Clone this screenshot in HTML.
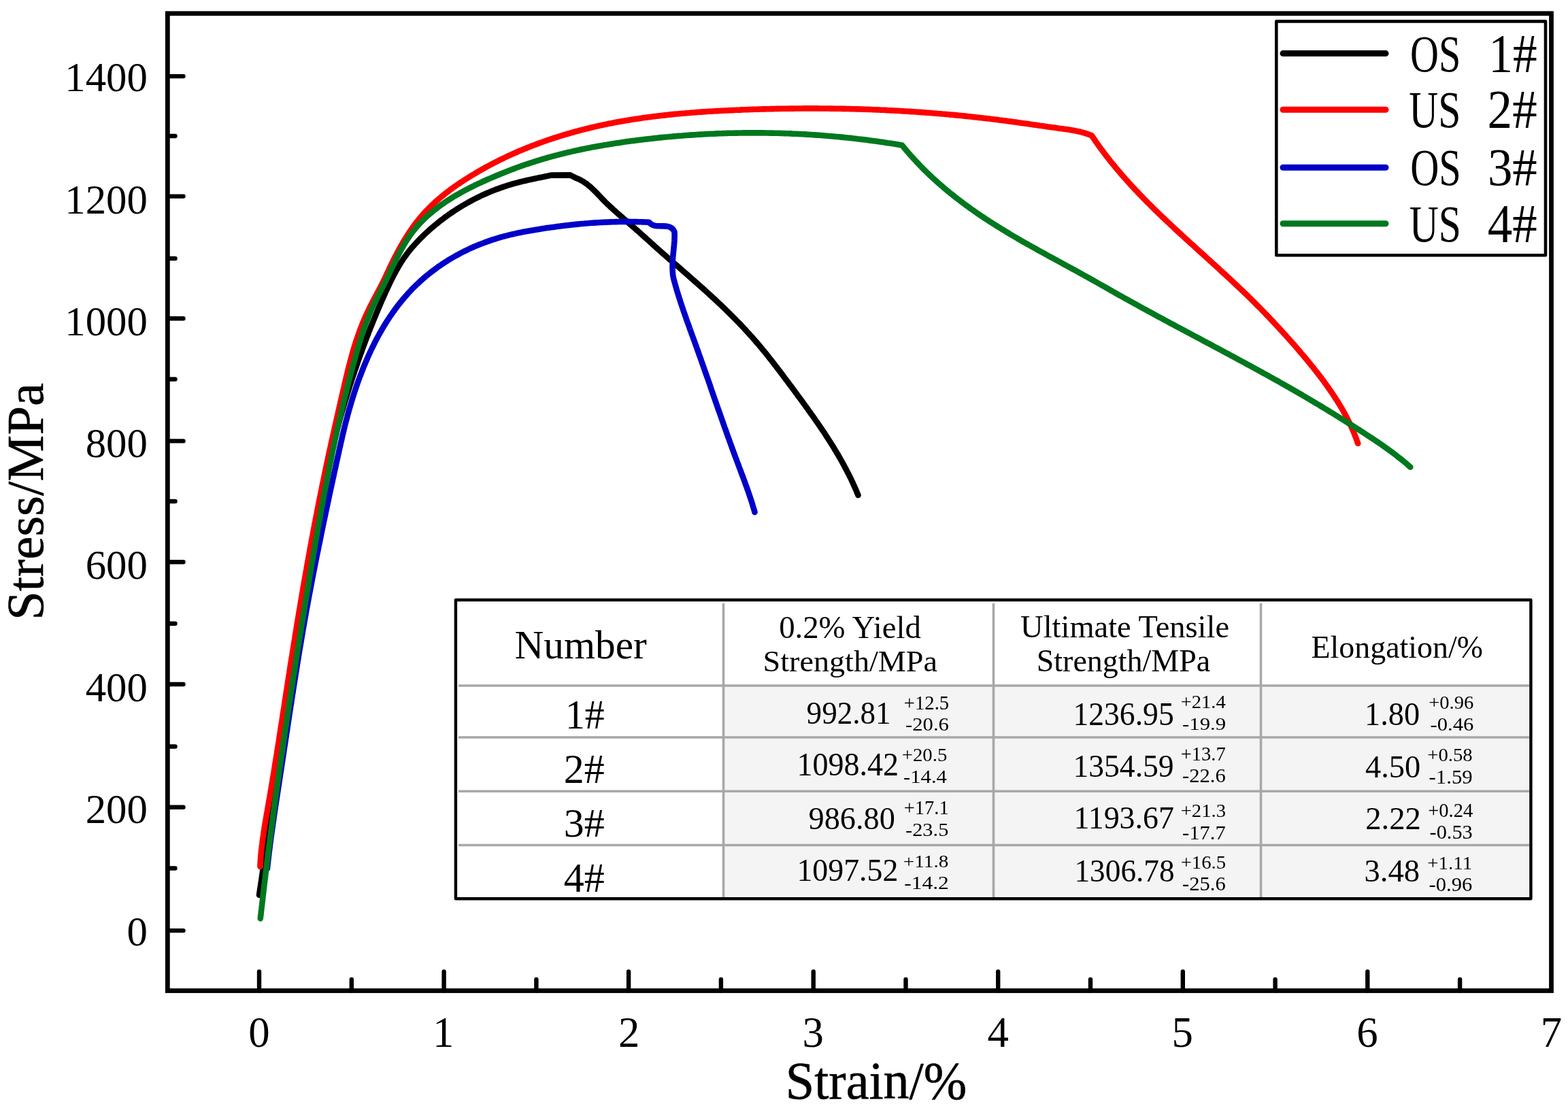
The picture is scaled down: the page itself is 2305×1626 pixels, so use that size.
<!DOCTYPE html><html><head><meta charset="utf-8"><title>Stress-strain curves</title><style>html,body{margin:0;padding:0;background:#fff;overflow:hidden}svg{display:block}text{font-family:"Liberation Serif","Times New Roman",serif;fill:#000;stroke:#000;stroke-linejoin:round}</style></head><body>
<svg xmlns="http://www.w3.org/2000/svg" width="2305" height="1626" viewBox="0 0 2305 1626">
<rect width="2305" height="1626" fill="#fff"/>
<path d="M246.3 1368.1H269.5 M246.3 1186.8H269.5 M246.3 1006H269.5 M246.3 826.3H269.5 M246.3 648.4H269.5 M246.3 468.3H269.5 M246.3 288.6H269.5 M246.3 112.1H269.5 M246.3 1276.5H257.5 M246.3 1097.5H257.5 M246.3 916.8H257.5 M246.3 737H257.5 M246.3 557.5H257.5 M246.3 380H257.5 M246.3 200H257.5 M381 1456.5V1428.5 M652.6 1456.5V1428.5 M924.1 1456.5V1428.5 M1195.7 1456.5V1428.5 M1467.2 1456.5V1428.5 M1738.8 1456.5V1428.5 M2010.3 1456.5V1428.5 M516.8 1456.5V1440 M788.4 1456.5V1440 M1059.9 1456.5V1440 M1331.5 1456.5V1440 M1603 1456.5V1440 M1874.6 1456.5V1440 M2146.1 1456.5V1440" stroke="#000" stroke-width="6.4" stroke-linecap="round" fill="none"/>
<polyline points="381,1316 381.4,1313 381.9,1310.1 382.3,1307.1 382.7,1304.1 383.2,1301.1 383.6,1298.2 384.1,1295.2 384.5,1292.2 384.9,1289.2 385.4,1286.3 385.8,1283.3 386.2,1280.3 386.7,1277.3 387.1,1274.4 387.5,1271.4 388,1268.4 388.4,1265.4 388.8,1262.5 389.2,1259.5 389.7,1256.5 390.1,1253.5 390.5,1250.6 391,1247.6 391.4,1244.6 391.8,1241.6 392.3,1238.7 392.7,1235.7 393.1,1232.7 393.5,1229.7 394,1226.8 394.4,1223.8 394.8,1220.8 395.3,1217.8 395.7,1214.8 396.1,1211.9 396.5,1208.9 397,1205.9 397.4,1202.9 397.8,1200 398.3,1197 398.7,1194 399.1,1191 399.5,1188 400,1185.1 400.4,1182.1 400.8,1179.1 401.3,1176.1 401.7,1173.2 402.1,1170.2 402.5,1167.2 403,1164.2 403.4,1161.3 403.8,1158.3 404.3,1155.3 404.7,1152.3 405.1,1149.3 405.6,1146.4 406,1143.4 406.4,1140.4 406.9,1137.4 407.3,1134.5 407.7,1131.5 408.2,1128.5 408.6,1125.5 409,1122.6 409.5,1119.6 409.9,1116.6 410.3,1113.6 410.8,1110.6 411.2,1107.7 411.6,1104.7 412.1,1101.7 412.5,1098.7 413,1095.8 413.4,1092.8 413.9,1089.8 414.3,1086.8 414.7,1083.9 415.2,1080.9 415.6,1077.9 416.1,1074.9 416.5,1072 417,1069 417.4,1066 417.9,1063 418.3,1060.1 418.8,1057.1 419.2,1054.1 419.7,1051.2 420.1,1048.2 420.6,1045.2 421,1042.2 421.5,1039.3 421.9,1036.3 422.4,1033.3 422.9,1030.3 423.3,1027.4 423.8,1024.4 424.2,1021.4 424.7,1018.5 425.2,1015.5 425.6,1012.5 426.1,1009.6 426.6,1006.6 427,1003.6 427.5,1000.6 428,997.7 428.5,994.7 428.9,991.7 429.4,988.8 429.9,985.8 430.4,982.8 430.8,979.9 431.3,976.9 431.8,973.9 432.3,971 432.8,968 433.3,965 433.7,962.1 434.2,959.1 434.7,956.1 435.2,953.2 435.7,950.2 436.2,947.2 436.7,944.3 437.2,941.3 437.7,938.4 438.1,935.4 438.6,932.4 439.1,929.5 439.6,926.5 440.1,923.5 440.6,920.6 441.1,917.6 441.6,914.6 442.1,911.7 442.6,908.7 443.1,905.7 443.6,902.8 444.1,899.8 444.6,896.9 445.1,893.9 445.6,890.9 446.1,888 446.6,885 447.1,882 447.6,879.1 448.1,876.1 448.6,873.1 449.2,870.2 449.7,867.2 450.2,864.3 450.7,861.3 451.2,858.3 451.7,855.4 452.2,852.4 452.7,849.4 453.2,846.5 453.7,843.5 454.2,840.5 454.7,837.6 455.2,834.6 455.7,831.6 456.2,828.7 456.8,825.7 457.3,822.7 457.8,819.8 458.3,816.8 458.8,813.8 459.3,810.9 459.8,807.9 460.3,804.9 460.8,802 461.3,799 461.9,796 462.4,793.1 462.9,790.1 463.4,787.2 463.9,784.2 464.4,781.2 465,778.3 465.5,775.3 466,772.3 466.5,769.4 467.1,766.4 467.6,763.4 468.1,760.5 468.7,757.5 469.2,754.6 469.8,751.6 470.3,748.6 470.9,745.7 471.4,742.7 472,739.8 472.5,736.8 473.1,733.9 473.6,730.9 474.2,727.9 474.8,725 475.4,722 475.9,719.1 476.5,716.1 477.1,713.2 477.7,710.2 478.3,707.3 478.9,704.3 479.5,701.4 480.1,698.5 480.7,695.5 481.4,692.6 482,689.6 482.6,686.7 483.3,683.8 483.9,680.8 484.5,677.9 485.2,674.9 485.9,672 486.5,669.1 487.2,666.2 487.9,663.2 488.6,660.3 489.2,657.4 489.9,654.5 490.6,651.5 491.3,648.6 492.1,645.7 492.8,642.8 493.5,639.9 494.3,637 495,634 495.7,631.1 496.5,628.2 497.3,625.3 498,622.4 498.8,619.5 499.6,616.6 500.4,613.7 501.2,610.8 502,607.9 502.8,605.1 503.7,602.2 504.5,599.3 505.3,596.4 506.2,593.5 507,590.6 507.9,587.8 508.8,584.9 509.7,582 510.5,579.1 511.4,576.3 512.3,573.4 513.2,570.5 514.1,567.7 515,564.8 516,562 516.9,559.1 517.8,556.2 518.8,553.4 519.7,550.5 520.7,547.7 521.6,544.8 522.6,542 523.6,539.2 524.6,536.3 525.5,533.5 526.5,530.6 527.5,527.8 528.5,525 529.5,522.1 530.6,519.3 531.6,516.5 532.6,513.7 533.6,510.8 534.7,508 535.7,505.2 536.8,502.4 537.8,499.6 538.9,496.8 540,494 541.1,491.2 542.1,488.4 543.2,485.6 544.3,482.8 545.4,480 546.6,477.2 547.7,474.4 548.8,471.6 550,468.8 551.1,466 552.3,463.2 553.4,460.5 554.6,457.7 555.8,454.9 556.9,452.1 558.1,449.4 559.3,446.6 560.5,443.8 561.7,441.1 563,438.3 564.2,435.6 565.4,432.8 566.6,430 567.9,427.3 569.1,424.5 570.4,421.8 571.7,419.1 573,416.3 574.3,413.6 575.6,410.9 577,408.2 578.3,405.6 579.7,402.9 581.2,400.3 582.6,397.6 584.1,395 585.6,392.4 587.1,389.9 588.6,387.3 590.2,384.8 591.9,382.3 593.5,379.8 595.2,377.4 597,375 598.7,372.6 600.6,370.2 602.4,367.9 604.3,365.6 606.2,363.3 608.2,361.1 610.2,358.9 612.2,356.7 614.3,354.5 616.3,352.4 618.4,350.2 620.6,348.1 622.7,346 624.9,343.9 627.1,341.9 629.3,339.8 631.6,337.8 633.8,335.8 636.1,333.9 638.4,331.9 640.8,330 643.1,328.1 645.5,326.2 647.8,324.3 650.3,322.5 652.7,320.6 655.1,318.8 657.6,317.1 660,315.3 662.5,313.6 665,311.9 667.5,310.2 670.1,308.5 672.6,306.9 675.2,305.3 677.8,303.7 680.4,302.1 683,300.6 685.6,299.1 688.2,297.6 690.9,296.2 693.5,294.7 696.2,293.3 698.8,292 701.5,290.6 704.2,289.3 706.9,288 709.6,286.7 712.4,285.5 715.1,284.3 717.9,283.1 720.6,282 723.4,280.8 726.2,279.7 729,278.6 731.8,277.6 734.6,276.6 737.4,275.6 740.2,274.6 743.1,273.7 745.9,272.7 748.8,271.9 751.6,271 754.5,270.2 757.4,269.4 760.3,268.6 763.2,267.8 766.1,267.1 769.1,266.4 772,265.7 774.9,265 777.9,264.4 780.8,263.8 783.8,263.1 786.7,262.5 789.6,261.9 792.6,261.3 795.5,260.7 798.4,260.1 801.3,259.5 804.2,258.9 807.1,258.2 810,257.6 838.1,257.4 845.6,261.2 848.6,262.4 851.4,263.7 854.2,265.1 856.8,266.6 859.3,268.2 861.8,269.9 864.1,271.7 866.4,273.6 868.7,275.6 870.9,277.6 873,279.6 875.1,281.7 877.2,283.8 879.3,286 881.3,288.1 883.4,290.3 885.4,292.5 887.5,294.6 889.6,296.7 891.7,298.8 893.9,300.9 896.1,303 898.3,305 900.5,307 902.7,309.1 905,311.1 907.2,313.1 909.5,315.1 911.8,317 914.1,319 916.3,321 918.6,323 920.9,324.9 923.2,326.9 925.5,328.9 927.8,330.9 930.1,332.9 932.3,334.9 934.6,336.9 936.9,338.9 939.1,340.9 941.4,342.9 943.6,345 945.9,347 948.1,349 950.4,351 952.6,353.1 954.9,355.1 957.1,357.1 959.4,359.1 961.6,361.2 963.9,363.2 966.1,365.2 968.4,367.2 970.7,369.2 972.9,371.2 975.2,373.2 977.5,375.2 979.7,377.2 982,379.2 984.3,381.2 986.6,383.1 988.9,385.1 991.1,387.1 993.4,389.1 995.7,391.1 998,393.1 1000.3,395.1 1002.5,397 1004.8,399 1007.1,401 1009.4,403 1011.7,405 1013.9,407 1016.2,409 1018.5,411 1020.7,413 1023,415 1025.3,417 1027.5,419 1029.8,421 1032.1,423 1034.3,425 1036.6,427.1 1038.8,429.1 1041,431.1 1043.3,433.2 1045.5,435.2 1047.7,437.3 1050,439.3 1052.2,441.4 1054.4,443.5 1056.6,445.6 1058.8,447.6 1061,449.7 1063.2,451.8 1065.4,453.9 1067.5,456 1069.7,458.2 1071.9,460.3 1074,462.4 1076.2,464.5 1078.3,466.7 1080.4,468.8 1082.5,471 1084.7,473.2 1086.8,475.3 1088.9,477.5 1090.9,479.7 1093,481.9 1095.1,484.1 1097.1,486.4 1099.2,488.6 1101.2,490.8 1103.2,493.1 1105.3,495.3 1107.3,497.6 1109.2,499.8 1111.2,502.1 1113.2,504.4 1115.2,506.7 1117.1,509 1119,511.3 1121,513.7 1122.9,516 1124.8,518.3 1126.7,520.7 1128.6,523 1130.4,525.4 1132.3,527.8 1134.2,530.1 1136,532.5 1137.9,534.9 1139.7,537.3 1141.6,539.7 1143.4,542.1 1145.3,544.5 1147.1,546.9 1148.9,549.3 1150.7,551.7 1152.5,554.2 1154.3,556.6 1156.2,559 1158,561.4 1159.8,563.9 1161.6,566.3 1163.4,568.7 1165.2,571.1 1167,573.6 1168.8,576 1170.6,578.4 1172.4,580.9 1174.2,583.3 1176,585.8 1177.8,588.2 1179.5,590.6 1181.3,593.1 1183.1,595.5 1184.9,598 1186.7,600.4 1188.4,602.9 1190.2,605.4 1192,607.8 1193.7,610.3 1195.5,612.8 1197.2,615.2 1198.9,617.7 1200.7,620.2 1202.4,622.7 1204.1,625.2 1205.8,627.7 1207.5,630.2 1209.2,632.7 1210.9,635.2 1212.6,637.7 1214.2,640.2 1215.9,642.8 1217.5,645.3 1219.1,647.9 1220.8,650.4 1222.4,653 1224,655.5 1225.6,658.1 1227.1,660.7 1228.7,663.3 1230.2,665.8 1231.8,668.4 1233.3,671.1 1234.8,673.7 1236.3,676.3 1237.8,678.9 1239.2,681.6 1240.7,684.2 1242.1,686.9 1243.5,689.6 1244.9,692.2 1246.3,694.9 1247.7,697.6 1249,700.3 1250.4,703 1251.7,705.8 1253,708.5 1254.2,711.3 1255.5,714 1256.7,716.8 1258,719.6 1259.2,722.4 1260.3,725.2 1261.5,728" fill="none" stroke="#000" stroke-width="8.6" stroke-linejoin="round" stroke-linecap="round"/>
<polyline points="382.4,1274 382.5,1271 382.7,1268 382.9,1265 383.1,1262 383.4,1259 383.6,1256 383.9,1253 384.2,1250 384.6,1247 384.9,1244 385.3,1241 385.6,1238 386,1235.1 386.4,1232.1 386.9,1229.1 387.3,1226.1 387.7,1223.1 388.2,1220.2 388.7,1217.2 389.1,1214.2 389.6,1211.3 390.1,1208.3 390.6,1205.3 391.1,1202.4 391.6,1199.4 392.1,1196.4 392.7,1193.5 393.2,1190.5 393.7,1187.5 394.2,1184.6 394.7,1181.6 395.2,1178.6 395.8,1175.7 396.3,1172.7 396.8,1169.8 397.3,1166.8 397.8,1163.8 398.3,1160.9 398.8,1157.9 399.3,1154.9 399.8,1152 400.3,1149 400.7,1146 401.2,1143.1 401.7,1140.1 402.2,1137.1 402.7,1134.2 403.2,1131.2 403.6,1128.2 404.1,1125.3 404.6,1122.3 405.1,1119.3 405.6,1116.3 406,1113.4 406.5,1110.4 407,1107.4 407.4,1104.5 407.9,1101.5 408.4,1098.5 408.8,1095.6 409.3,1092.6 409.8,1089.6 410.2,1086.7 410.7,1083.7 411.1,1080.7 411.6,1077.7 412.1,1074.8 412.5,1071.8 413,1068.8 413.4,1065.9 413.9,1062.9 414.4,1059.9 414.8,1057 415.3,1054 415.7,1051 416.2,1048 416.6,1045.1 417.1,1042.1 417.6,1039.1 418,1036.2 418.5,1033.2 418.9,1030.2 419.4,1027.2 419.8,1024.3 420.3,1021.3 420.7,1018.3 421.2,1015.4 421.7,1012.4 422.1,1009.4 422.6,1006.4 423,1003.5 423.5,1000.5 424,997.5 424.4,994.6 424.9,991.6 425.4,988.6 425.8,985.6 426.3,982.7 426.7,979.7 427.2,976.7 427.7,973.8 428.2,970.8 428.6,967.8 429.1,964.9 429.6,961.9 430,958.9 430.5,955.9 431,953 431.5,950 431.9,947 432.4,944.1 432.9,941.1 433.4,938.1 433.8,935.2 434.3,932.2 434.8,929.2 435.3,926.3 435.8,923.3 436.3,920.3 436.7,917.3 437.2,914.4 437.7,911.4 438.2,908.4 438.7,905.5 439.2,902.5 439.7,899.5 440.2,896.6 440.7,893.6 441.2,890.6 441.7,887.7 442.2,884.7 442.7,881.7 443.2,878.8 443.7,875.8 444.2,872.8 444.7,869.9 445.2,866.9 445.7,864 446.2,861 446.7,858 447.2,855.1 447.8,852.1 448.3,849.1 448.8,846.2 449.3,843.2 449.8,840.3 450.4,837.3 450.9,834.3 451.4,831.4 451.9,828.4 452.5,825.4 453,822.5 453.5,819.5 454.1,816.6 454.6,813.6 455.1,810.6 455.7,807.7 456.2,804.7 456.7,801.8 457.3,798.8 457.8,795.9 458.4,792.9 458.9,789.9 459.5,787 460,784 460.6,781.1 461.1,778.1 461.7,775.2 462.3,772.2 462.8,769.3 463.4,766.3 463.9,763.4 464.5,760.4 465.1,757.5 465.7,754.5 466.2,751.6 466.8,748.6 467.4,745.7 468,742.7 468.5,739.8 469.1,736.8 469.7,733.9 470.3,730.9 470.9,728 471.5,725 472.1,722.1 472.7,719.1 473.3,716.2 473.8,713.2 474.5,710.3 475.1,707.4 475.7,704.4 476.3,701.5 476.9,698.5 477.5,695.6 478.1,692.7 478.7,689.7 479.3,686.8 480,683.8 480.6,680.9 481.2,678 481.8,675 482.5,672.1 483.1,669.1 483.7,666.2 484.4,663.3 485,660.3 485.7,657.4 486.3,654.5 486.9,651.5 487.6,648.6 488.2,645.7 488.9,642.7 489.5,639.8 490.2,636.9 490.9,634 491.5,631 492.2,628.1 492.8,625.2 493.5,622.2 494.2,619.3 494.8,616.4 495.5,613.4 496.2,610.5 496.8,607.6 497.5,604.6 498.2,601.7 498.8,598.7 499.5,595.8 500.2,592.9 500.8,589.9 501.5,587 502.2,584.1 502.9,581.1 503.5,578.2 504.2,575.2 504.9,572.3 505.6,569.4 506.2,566.4 506.9,563.5 507.6,560.5 508.3,557.6 509,554.6 509.7,551.7 510.4,548.8 511.1,545.8 511.8,542.9 512.6,540 513.3,537 514.1,534.1 514.8,531.2 515.6,528.3 516.4,525.4 517.2,522.5 518,519.6 518.8,516.7 519.7,513.8 520.5,510.9 521.4,508 522.3,505.2 523.2,502.3 524.2,499.5 525.1,496.6 526.1,493.8 527.1,491 528.1,488.1 529.1,485.3 530.2,482.5 531.3,479.7 532.4,476.9 533.5,474.2 534.7,471.4 535.8,468.7 537,465.9 538.3,463.2 539.5,460.5 540.8,457.8 542.1,455.1 543.4,452.4 544.7,449.7 546.1,447 547.4,444.4 548.8,441.7 550.2,439.1 551.6,436.4 553,433.8 554.4,431.1 555.8,428.5 557.2,425.9 558.6,423.2 560,420.6 561.3,417.9 562.7,415.2 564,412.5 565.3,409.8 566.6,407.2 567.8,404.4 569.1,401.7 570.4,399 571.7,396.3 572.9,393.6 574.2,390.9 575.5,388.2 576.8,385.5 578.2,382.8 579.5,380.1 580.9,377.4 582.3,374.7 583.7,372.1 585.1,369.4 586.5,366.7 588,364.1 589.5,361.5 591,358.8 592.5,356.2 594,353.6 595.6,351.1 597.2,348.5 598.8,346 600.4,343.4 602.1,340.9 603.8,338.4 605.5,336 607.2,333.5 609,331.1 610.8,328.7 612.6,326.3 614.5,324 616.3,321.6 618.3,319.3 620.2,317.1 622.2,314.8 624.2,312.6 626.2,310.4 628.3,308.3 630.4,306.1 632.5,304 634.6,301.9 636.8,299.9 639,297.8 641.2,295.8 643.5,293.9 645.7,291.9 648,290 650.3,288.1 652.7,286.2 655,284.3 657.4,282.5 659.8,280.6 662.2,278.8 664.6,277 667.1,275.3 669.5,273.5 672,271.8 674.5,270.1 677,268.4 679.5,266.8 682,265.1 684.5,263.5 687.1,261.9 689.6,260.3 692.2,258.7 694.8,257.1 697.4,255.6 700,254 702.6,252.5 705.2,251 707.8,249.5 710.4,248 713,246.6 715.7,245.1 718.3,243.7 721,242.3 723.6,240.9 726.3,239.5 729,238.1 731.7,236.8 734.4,235.4 737.1,234.1 739.8,232.8 742.5,231.5 745.2,230.2 747.9,228.9 750.7,227.7 753.4,226.4 756.2,225.2 758.9,224 761.7,222.8 764.4,221.6 767.2,220.5 770,219.3 772.8,218.2 775.5,217 778.3,215.9 781.1,214.8 783.9,213.7 786.8,212.7 789.6,211.6 792.4,210.6 795.2,209.5 798.1,208.5 800.9,207.5 803.7,206.5 806.6,205.5 809.4,204.6 812.3,203.6 815.1,202.7 818,201.8 820.9,200.9 823.7,200 826.6,199.1 829.5,198.2 832.4,197.3 835.3,196.5 838.2,195.7 841.1,194.8 844,194 846.9,193.2 849.8,192.5 852.7,191.7 855.6,190.9 858.5,190.2 861.4,189.4 864.3,188.7 867.3,188 870.2,187.3 873.1,186.6 876,185.9 879,185.3 881.9,184.6 884.8,184 887.8,183.4 890.7,182.8 893.7,182.1 896.6,181.6 899.6,181 902.5,180.4 905.5,179.8 908.4,179.3 911.4,178.8 914.3,178.2 917.3,177.7 920.2,177.2 923.2,176.7 926.2,176.2 929.1,175.7 932.1,175.3 935.1,174.8 938,174.4 941,173.9 944,173.5 947,173.1 949.9,172.7 952.9,172.3 955.9,171.9 958.9,171.5 961.8,171.1 964.8,170.8 967.8,170.4 970.8,170.1 973.8,169.7 976.8,169.4 979.7,169.1 982.7,168.7 985.7,168.4 988.7,168.1 991.7,167.8 994.7,167.5 997.7,167.3 1000.7,167 1003.7,166.7 1006.7,166.5 1009.7,166.2 1012.7,166 1015.7,165.7 1018.7,165.5 1021.7,165.3 1024.7,165 1027.7,164.8 1030.7,164.6 1033.7,164.4 1036.7,164.2 1039.7,164 1042.7,163.8 1045.7,163.7 1048.7,163.5 1051.7,163.3 1054.7,163.1 1057.7,163 1060.7,162.8 1063.7,162.7 1066.7,162.5 1069.7,162.4 1072.7,162.2 1075.7,162.1 1078.8,162 1081.8,161.8 1084.8,161.7 1087.8,161.6 1090.8,161.4 1093.8,161.3 1096.8,161.2 1099.8,161.1 1102.8,161 1105.8,160.9 1108.8,160.8 1111.9,160.7 1114.9,160.6 1117.9,160.5 1120.9,160.4 1123.9,160.4 1126.9,160.3 1129.9,160.2 1132.9,160.1 1135.9,160.1 1138.9,160 1141.9,159.9 1144.9,159.9 1148,159.8 1151,159.8 1154,159.7 1157,159.7 1160,159.6 1163,159.6 1166,159.6 1169,159.5 1172,159.5 1175,159.5 1178,159.5 1181.1,159.4 1184.1,159.4 1187.1,159.4 1190.1,159.4 1193.1,159.4 1196.1,159.4 1199.1,159.4 1202.1,159.4 1205.1,159.5 1208.1,159.5 1211.1,159.5 1214.1,159.5 1217.2,159.5 1220.2,159.6 1223.2,159.6 1226.2,159.7 1229.2,159.7 1232.2,159.7 1235.2,159.8 1238.2,159.9 1241.2,159.9 1244.2,160 1247.2,160 1250.2,160.1 1253.2,160.2 1256.2,160.3 1259.3,160.4 1262.3,160.4 1265.3,160.5 1268.3,160.6 1271.3,160.7 1274.3,160.8 1277.3,160.9 1280.3,161 1283.3,161.2 1286.3,161.3 1289.3,161.4 1292.3,161.5 1295.3,161.7 1298.3,161.8 1301.3,161.9 1304.3,162.1 1307.3,162.2 1310.3,162.4 1313.3,162.5 1316.3,162.7 1319.3,162.8 1322.3,163 1325.3,163.2 1328.3,163.4 1331.3,163.5 1334.3,163.7 1337.3,163.9 1340.3,164.1 1343.3,164.3 1346.3,164.5 1349.3,164.7 1352.3,164.9 1355.3,165.1 1358.3,165.3 1361.3,165.6 1364.3,165.8 1367.3,166 1370.3,166.3 1373.3,166.5 1376.3,166.7 1379.3,167 1382.3,167.2 1385.3,167.5 1388.3,167.7 1391.3,168 1394.3,168.3 1397.3,168.6 1400.3,168.8 1403.3,169.1 1406.3,169.4 1409.3,169.7 1412.3,170 1415.3,170.3 1418.2,170.6 1421.2,170.9 1424.2,171.2 1427.2,171.5 1430.2,171.9 1433.2,172.2 1436.2,172.5 1439.2,172.9 1442.2,173.2 1445.2,173.5 1448.1,173.9 1451.1,174.2 1454.1,174.6 1457.1,175 1460.1,175.3 1463.1,175.7 1466.1,176.1 1469,176.5 1472,176.8 1475,177.2 1478,177.6 1481,178 1484,178.4 1486.9,178.8 1489.9,179.2 1492.9,179.6 1495.9,180.1 1498.9,180.5 1501.9,180.9 1504.8,181.3 1507.8,181.7 1510.8,182.1 1513.8,182.6 1516.8,183 1519.7,183.4 1522.7,183.8 1525.7,184.2 1528.7,184.7 1531.7,185.1 1534.6,185.5 1537.6,185.9 1540.6,186.4 1543.6,186.8 1546.6,187.2 1549.5,187.6 1552.5,188 1555.5,188.5 1558.5,188.9 1561.5,189.3 1564.4,189.7 1567.4,190.1 1570.4,190.5 1573.4,191 1576.3,191.5 1579.3,192 1582.2,192.6 1585.1,193.2 1588,193.8 1590.9,194.6 1593.8,195.4 1596.6,196.3 1599.4,197.2 1602.2,198.3 1605,199.5 1606.7,202 1608.4,204.5 1610.1,207 1611.8,209.5 1613.6,212 1615.3,214.4 1617.1,216.9 1618.9,219.3 1620.7,221.8 1622.5,224.2 1624.3,226.6 1626.1,229 1628,231.4 1629.8,233.7 1631.7,236.1 1633.6,238.4 1635.5,240.8 1637.4,243.1 1639.3,245.4 1641.2,247.7 1643.1,250 1645.1,252.3 1647,254.6 1649,256.9 1651,259.2 1653,261.4 1655,263.7 1657,265.9 1659,268.1 1661,270.3 1663,272.6 1665,274.8 1667.1,277 1669.1,279.2 1671.2,281.3 1673.3,283.5 1675.3,285.7 1677.4,287.9 1679.5,290 1681.6,292.2 1683.7,294.3 1685.8,296.5 1687.9,298.6 1690.1,300.7 1692.2,302.8 1694.3,305 1696.5,307.1 1698.6,309.2 1700.8,311.3 1702.9,313.4 1705.1,315.5 1707.3,317.5 1709.4,319.6 1711.6,321.7 1713.8,323.8 1716,325.9 1718.2,327.9 1720.4,330 1722.6,332 1724.8,334.1 1727,336.2 1729.2,338.2 1731.4,340.2 1733.6,342.3 1735.8,344.3 1738.1,346.4 1740.3,348.4 1742.5,350.5 1744.7,352.5 1747,354.5 1749.2,356.6 1751.4,358.6 1753.7,360.6 1755.9,362.6 1758.1,364.7 1760.4,366.7 1762.6,368.7 1764.8,370.8 1767.1,372.8 1769.3,374.8 1771.6,376.8 1773.8,378.9 1776,380.9 1778.3,382.9 1780.5,384.9 1782.7,387 1785,389 1787.2,391 1789.4,393.1 1791.7,395.1 1793.9,397.2 1796.1,399.2 1798.3,401.2 1800.6,403.3 1802.8,405.3 1805,407.4 1807.2,409.4 1809.4,411.5 1811.6,413.5 1813.8,415.6 1816,417.7 1818.2,419.7 1820.4,421.8 1822.6,423.9 1824.8,426 1827,428 1829.1,430.1 1831.3,432.2 1833.5,434.3 1835.6,436.4 1837.8,438.5 1839.9,440.7 1842.1,442.8 1844.2,444.9 1846.3,447 1848.4,449.2 1850.6,451.3 1852.7,453.4 1854.8,455.6 1856.9,457.8 1859,459.9 1861.1,462.1 1863.2,464.2 1865.3,466.4 1867.3,468.6 1869.4,470.8 1871.5,473 1873.5,475.2 1875.6,477.4 1877.6,479.6 1879.7,481.8 1881.7,484 1883.8,486.2 1885.8,488.5 1887.8,490.7 1889.9,492.9 1891.9,495.2 1893.9,497.4 1895.9,499.7 1897.9,501.9 1899.9,504.2 1901.9,506.4 1903.9,508.7 1905.9,511 1907.8,513.3 1909.8,515.6 1911.8,517.9 1913.7,520.2 1915.7,522.5 1917.6,524.8 1919.5,527.1 1921.5,529.4 1923.4,531.7 1925.3,534.1 1927.2,536.4 1929.1,538.8 1931,541.1 1932.8,543.5 1934.7,545.9 1936.6,548.2 1938.4,550.6 1940.2,553 1942.1,555.4 1943.9,557.8 1945.7,560.2 1947.4,562.7 1949.2,565.1 1951,567.5 1952.7,570 1954.4,572.5 1956.2,574.9 1957.8,577.4 1959.5,579.9 1961.2,582.4 1962.8,584.9 1964.4,587.4 1966.1,590 1967.6,592.5 1969.2,595.1 1970.7,597.6 1972.3,600.2 1973.8,602.8 1975.2,605.4 1976.7,608 1978.1,610.7 1979.5,613.3 1980.9,616 1982.2,618.7 1983.6,621.4 1984.9,624.1 1986.1,626.8 1987.4,629.5 1988.6,632.3 1989.8,635 1990.9,637.8 1992,640.6 1993.1,643.4 1994.2,646.3 1995.2,649.1 1996.2,652" fill="none" stroke="#ff0000" stroke-width="8.6" stroke-linejoin="round" stroke-linecap="round"/>
<polyline points="392.9,1277 393.2,1274 393.5,1271 393.9,1268 394.2,1265 394.6,1262 394.9,1259.1 395.3,1256.1 395.6,1253.1 396,1250.1 396.4,1247.1 396.8,1244.1 397.1,1241.1 397.5,1238.2 397.9,1235.2 398.3,1232.2 398.7,1229.2 399.1,1226.2 399.5,1223.3 399.9,1220.3 400.4,1217.3 400.8,1214.3 401.2,1211.3 401.6,1208.4 402.1,1205.4 402.5,1202.4 402.9,1199.4 403.4,1196.4 403.8,1193.5 404.2,1190.5 404.7,1187.5 405.1,1184.5 405.6,1181.6 406,1178.6 406.5,1175.6 406.9,1172.6 407.4,1169.7 407.8,1166.7 408.3,1163.7 408.7,1160.7 409.2,1157.8 409.7,1154.8 410.1,1151.8 410.6,1148.8 411,1145.9 411.5,1142.9 411.9,1139.9 412.4,1136.9 412.8,1134 413.3,1131 413.7,1128 414.2,1125 414.6,1122.1 415.1,1119.1 415.5,1116.1 416,1113.1 416.4,1110.2 416.9,1107.2 417.3,1104.2 417.8,1101.2 418.2,1098.3 418.7,1095.3 419.1,1092.3 419.6,1089.3 420,1086.4 420.5,1083.4 420.9,1080.4 421.4,1077.4 421.8,1074.5 422.3,1071.5 422.7,1068.5 423.2,1065.5 423.6,1062.6 424.1,1059.6 424.5,1056.6 425,1053.6 425.4,1050.7 425.9,1047.7 426.3,1044.7 426.8,1041.8 427.2,1038.8 427.7,1035.8 428.2,1032.8 428.6,1029.9 429.1,1026.9 429.5,1023.9 430,1020.9 430.5,1018 430.9,1015 431.4,1012 431.8,1009.1 432.3,1006.1 432.8,1003.1 433.2,1000.1 433.7,997.2 434.2,994.2 434.6,991.2 435.1,988.3 435.6,985.3 436.1,982.3 436.5,979.4 437,976.4 437.5,973.4 438,970.4 438.5,967.5 438.9,964.5 439.4,961.5 439.9,958.6 440.4,955.6 440.9,952.6 441.4,949.7 441.9,946.7 442.4,943.7 442.9,940.8 443.4,937.8 443.9,934.8 444.4,931.9 444.9,928.9 445.4,925.9 445.9,923 446.4,920 447,917.1 447.5,914.1 448,911.1 448.5,908.2 449.1,905.2 449.6,902.2 450.1,899.3 450.6,896.3 451.2,893.4 451.7,890.4 452.3,887.4 452.8,884.5 453.4,881.5 453.9,878.6 454.4,875.6 455,872.6 455.6,869.7 456.1,866.7 456.7,863.8 457.2,860.8 457.8,857.8 458.4,854.9 458.9,851.9 459.5,849 460.1,846 460.6,843.1 461.2,840.1 461.8,837.2 462.4,834.2 463,831.2 463.5,828.3 464.1,825.3 464.7,822.4 465.3,819.4 465.9,816.5 466.5,813.5 467.1,810.6 467.7,807.6 468.3,804.7 468.9,801.7 469.5,798.8 470.1,795.8 470.7,792.9 471.3,789.9 471.9,787 472.5,784 473.1,781.1 473.7,778.1 474.3,775.2 474.9,772.2 475.5,769.3 476.1,766.3 476.8,763.4 477.4,760.5 478,757.5 478.6,754.6 479.2,751.6 479.9,748.7 480.5,745.7 481.1,742.8 481.7,739.8 482.4,736.9 483,734 483.6,731 484.2,728.1 484.9,725.1 485.5,722.2 486.1,719.3 486.8,716.3 487.4,713.4 488,710.4 488.7,707.5 489.3,704.6 490,701.6 490.6,698.7 491.2,695.7 491.9,692.8 492.5,689.9 493.2,686.9 493.8,684 494.4,681.1 495.1,678.1 495.7,675.2 496.4,672.3 497,669.3 497.7,666.4 498.3,663.5 499,660.5 499.6,657.6 500.3,654.7 500.9,651.7 501.6,648.8 502.3,645.9 502.9,642.9 503.6,640 504.3,637.1 505,634.2 505.7,631.3 506.4,628.3 507.1,625.4 507.9,622.5 508.6,619.6 509.4,616.7 510.2,613.8 510.9,610.8 511.7,607.9 512.5,605 513.3,602.1 514.2,599.2 515,596.3 515.9,593.4 516.7,590.6 517.6,587.7 518.5,584.8 519.4,581.9 520.3,579 521.2,576.2 522.2,573.3 523.2,570.4 524.1,567.6 525.1,564.7 526.1,561.9 527.1,559 528.2,556.2 529.2,553.4 530.3,550.6 531.4,547.7 532.5,544.9 533.6,542.1 534.7,539.3 535.9,536.5 537,533.8 538.2,531 539.4,528.2 540.6,525.4 541.8,522.7 543.1,519.9 544.3,517.2 545.6,514.5 546.9,511.8 548.3,509.1 549.6,506.4 550.9,503.7 552.3,501 553.7,498.3 555.1,495.7 556.6,493 558,490.4 559.5,487.8 561,485.2 562.5,482.6 564.1,480 565.6,477.4 567.2,474.9 568.8,472.3 570.4,469.8 572.1,467.3 573.7,464.8 575.4,462.4 577.1,459.9 578.9,457.5 580.6,455 582.4,452.6 584.2,450.2 586,447.9 587.9,445.5 589.7,443.2 591.6,440.9 593.6,438.6 595.5,436.3 597.5,434.1 599.5,431.8 601.5,429.6 603.6,427.4 605.6,425.3 607.7,423.1 609.9,421 612,418.9 614.2,416.9 616.4,414.8 618.6,412.8 620.9,410.8 623.1,408.8 625.4,406.8 627.7,404.9 630.1,403 632.4,401.1 634.8,399.3 637.2,397.5 639.6,395.7 642,393.9 644.5,392.1 646.9,390.4 649.4,388.7 651.9,387.1 654.4,385.4 657,383.8 659.5,382.2 662.1,380.6 664.7,379.1 667.3,377.6 669.9,376.1 672.5,374.7 675.2,373.2 677.9,371.8 680.5,370.5 683.2,369.1 685.9,367.8 688.6,366.5 691.4,365.2 694.1,364 696.8,362.8 699.6,361.6 702.4,360.5 705.2,359.3 708,358.2 710.8,357.2 713.6,356.1 716.4,355.1 719.2,354.1 722.1,353.1 724.9,352.2 727.8,351.3 730.7,350.4 733.5,349.5 736.4,348.7 739.3,347.9 742.2,347.1 745.1,346.4 748,345.6 751,344.9 753.9,344.2 756.8,343.6 759.7,342.9 762.7,342.3 765.6,341.7 768.6,341.1 771.5,340.6 774.5,340 777.4,339.5 780.4,339 783.4,338.5 786.3,338 789.3,337.5 792.3,337 795.3,336.5 798.2,336 801.2,335.6 804.2,335.1 807.2,334.7 810.1,334.3 813.1,333.9 816.1,333.5 819.1,333.1 822.1,332.7 825,332.3 828,331.9 831,331.5 834,331.2 837,330.9 840,330.5 843,330.2 846,329.9 849,329.6 852,329.3 855,329 858,328.8 861,328.5 864,328.3 867,328 870,327.8 873,327.6 876,327.4 879,327.2 882,327 885,326.9 888,326.7 891,326.6 894,326.5 897,326.4 900,326.3 903,326.2 906,326.1 909,326 912,326 915,326 918,325.9 921.1,325.9 924.1,325.9 927.1,326 930.1,326 933.1,326 936.1,326.1 939.1,326.2 942.1,326.3 945.2,326.4 948.2,326.5 951.2,326.6 954.2,326.8 956.5,329.1 959.1,330.7 962.1,331.7 965.3,332.2 968.7,332.3 972.1,332.4 975.5,332.4 978.9,332.6 982.1,333 985,334 987.6,335.5 989.8,337.8 991.5,341 991.6,344.2 991.6,347.5 991.5,350.7 991.4,353.9 991.2,357.2 990.9,360.4 990.6,363.6 990.3,366.8 990,370.1 989.6,373.3 989.3,376.5 989.1,379.8 988.8,383 988.7,386.2 988.6,389.5 988.5,392.7 988.6,395.9 988.8,399.2 989,402.4 989.4,405.7 990,408.9 990.8,411.8 991.6,414.8 992.4,417.7 993.2,420.6 994.1,423.6 994.9,426.5 995.8,429.4 996.7,432.3 997.6,435.2 998.5,438.1 999.5,441 1000.4,443.9 1001.3,446.8 1002.3,449.6 1003.3,452.5 1004.2,455.4 1005.2,458.3 1006.2,461.2 1007.2,464 1008.2,466.9 1009.2,469.8 1010.2,472.6 1011.3,475.5 1012.3,478.3 1013.3,481.2 1014.3,484.1 1015.4,486.9 1016.4,489.8 1017.4,492.6 1018.5,495.5 1019.5,498.3 1020.6,501.2 1021.6,504 1022.6,506.9 1023.7,509.8 1024.7,512.6 1025.7,515.5 1026.7,518.3 1027.7,521.2 1028.8,524.1 1029.8,526.9 1030.8,529.8 1031.8,532.6 1032.8,535.5 1033.8,538.4 1034.8,541.2 1035.8,544.1 1036.8,547 1037.8,549.8 1038.9,552.7 1039.9,555.6 1040.9,558.4 1041.9,561.3 1042.9,564.2 1043.9,567 1044.8,569.9 1045.8,572.8 1046.8,575.6 1047.8,578.5 1048.8,581.4 1049.8,584.3 1050.8,587.1 1051.8,590 1052.8,592.9 1053.8,595.7 1054.8,598.6 1055.8,601.5 1056.8,604.3 1057.9,607.2 1058.9,610.1 1059.9,612.9 1060.9,615.8 1061.9,618.7 1062.9,621.5 1063.9,624.4 1064.9,627.3 1065.9,630.1 1067,633 1068,635.9 1069,638.7 1070,641.6 1071.1,644.4 1072.1,647.3 1073.1,650.2 1074.2,653 1075.2,655.9 1076.2,658.7 1077.3,661.6 1078.3,664.4 1079.4,667.3 1080.4,670.1 1081.5,673 1082.6,675.8 1083.6,678.7 1084.7,681.5 1085.8,684.4 1086.8,687.2 1087.9,690 1089,692.9 1090,695.7 1091.1,698.6 1092.2,701.4 1093.2,704.3 1094.3,707.1 1095.3,710 1096.3,712.8 1097.4,715.6 1098.4,718.5 1099.4,721.4 1100.4,724.2 1101.4,727.1 1102.3,729.9 1103.3,732.8 1104.2,735.7 1105.2,738.6 1106.1,741.4 1106.9,744.3 1107.8,747.2 1108.7,750.1 1109.5,753" fill="none" stroke="#0000c8" stroke-width="8.6" stroke-linejoin="round" stroke-linecap="round"/>
<polyline points="382.8,1350.4 383.1,1347.4 383.5,1344.4 383.8,1341.4 384.1,1338.4 384.5,1335.5 384.8,1332.5 385.2,1329.5 385.5,1326.5 385.9,1323.5 386.2,1320.5 386.6,1317.5 386.9,1314.6 387.3,1311.6 387.6,1308.6 388,1305.6 388.3,1302.6 388.7,1299.6 389,1296.6 389.4,1293.7 389.8,1290.7 390.1,1287.7 390.5,1284.7 390.8,1281.7 391.2,1278.7 391.6,1275.8 392,1272.8 392.3,1269.8 392.7,1266.8 393.1,1263.8 393.4,1260.9 393.8,1257.9 394.2,1254.9 394.6,1251.9 394.9,1248.9 395.3,1245.9 395.7,1243 396.1,1240 396.5,1237 396.9,1234 397.3,1231.1 397.6,1228.1 398,1225.1 398.4,1222.1 398.8,1219.1 399.2,1216.2 399.6,1213.2 400,1210.2 400.4,1207.2 400.8,1204.2 401.2,1201.3 401.6,1198.3 402,1195.3 402.4,1192.3 402.8,1189.4 403.2,1186.4 403.6,1183.4 404,1180.4 404.4,1177.5 404.8,1174.5 405.2,1171.5 405.6,1168.5 406,1165.6 406.5,1162.6 406.9,1159.6 407.3,1156.6 407.7,1153.7 408.1,1150.7 408.5,1147.7 409,1144.7 409.4,1141.8 409.8,1138.8 410.2,1135.8 410.6,1132.8 411.1,1129.9 411.5,1126.9 411.9,1123.9 412.4,1121 412.8,1118 413.2,1115 413.6,1112 414.1,1109.1 414.5,1106.1 414.9,1103.1 415.4,1100.2 415.8,1097.2 416.2,1094.2 416.7,1091.2 417.1,1088.3 417.6,1085.3 418,1082.3 418.4,1079.4 418.9,1076.4 419.3,1073.4 419.8,1070.4 420.2,1067.5 420.7,1064.5 421.1,1061.5 421.5,1058.6 422,1055.6 422.4,1052.6 422.9,1049.7 423.3,1046.7 423.8,1043.7 424.2,1040.8 424.7,1037.8 425.2,1034.8 425.6,1031.8 426.1,1028.9 426.5,1025.9 427,1022.9 427.4,1020 427.9,1017 428.4,1014 428.8,1011.1 429.3,1008.1 429.7,1005.1 430.2,1002.2 430.7,999.2 431.1,996.2 431.6,993.3 432.1,990.3 432.5,987.3 433,984.4 433.5,981.4 433.9,978.4 434.4,975.5 434.9,972.5 435.3,969.5 435.8,966.6 436.3,963.6 436.7,960.6 437.2,957.6 437.7,954.7 438.2,951.7 438.6,948.7 439.1,945.8 439.6,942.8 440.1,939.8 440.6,936.9 441,933.9 441.5,930.9 442,928 442.5,925 443,922 443.4,919.1 443.9,916.1 444.4,913.1 444.9,910.2 445.4,907.2 445.8,904.2 446.3,901.3 446.8,898.3 447.3,895.4 447.8,892.4 448.3,889.4 448.8,886.5 449.3,883.5 449.7,880.5 450.2,877.6 450.7,874.6 451.2,871.6 451.7,868.7 452.2,865.7 452.7,862.7 453.2,859.8 453.7,856.8 454.2,853.8 454.7,850.9 455.2,847.9 455.6,844.9 456.1,842 456.6,839 457.1,836 457.6,833.1 458.1,830.1 458.6,827.1 459.1,824.2 459.6,821.2 460.1,818.2 460.6,815.3 461.2,812.3 461.7,809.3 462.2,806.4 462.7,803.4 463.2,800.4 463.7,797.5 464.2,794.5 464.7,791.6 465.2,788.6 465.8,785.6 466.3,782.7 466.8,779.7 467.3,776.7 467.8,773.8 468.4,770.8 468.9,767.9 469.4,764.9 470,761.9 470.5,759 471,756 471.6,753.1 472.1,750.1 472.6,747.1 473.2,744.2 473.7,741.2 474.3,738.3 474.8,735.3 475.4,732.4 475.9,729.4 476.5,726.5 477,723.5 477.6,720.5 478.2,717.6 478.7,714.6 479.3,711.7 479.9,708.7 480.4,705.8 481,702.8 481.6,699.9 482.2,696.9 482.7,694 483.3,691 483.9,688.1 484.5,685.1 485.1,682.2 485.7,679.3 486.3,676.3 486.9,673.4 487.5,670.4 488.1,667.5 488.7,664.5 489.3,661.6 489.9,658.7 490.6,655.7 491.2,652.8 491.8,649.8 492.4,646.9 493.1,644 493.7,641 494.4,638.1 495,635.2 495.6,632.2 496.3,629.3 497,626.4 497.6,623.5 498.3,620.5 498.9,617.6 499.6,614.7 500.3,611.7 501,608.8 501.6,605.9 502.3,603 503,600 503.7,597.1 504.4,594.2 505.1,591.3 505.8,588.4 506.5,585.5 507.2,582.5 507.9,579.6 508.7,576.7 509.4,573.8 510.1,570.9 510.8,568 511.6,565.1 512.3,562.2 513.1,559.3 513.8,556.4 514.6,553.4 515.3,550.5 516.1,547.6 516.9,544.7 517.6,541.8 518.4,538.9 519.2,536 520,533.2 520.8,530.3 521.6,527.4 522.4,524.5 523.2,521.6 524,518.7 524.8,515.8 525.7,512.9 526.5,510.1 527.4,507.2 528.2,504.3 529.1,501.4 530,498.6 530.9,495.7 531.8,492.9 532.7,490 533.7,487.2 534.7,484.4 535.6,481.5 536.6,478.7 537.7,475.9 538.7,473.1 539.8,470.3 540.9,467.6 542,464.8 543.1,462 544.2,459.3 545.4,456.5 546.6,453.8 547.9,451.1 549.1,448.4 550.4,445.7 551.7,443 553,440.4 554.4,437.7 555.8,435 557.1,432.4 558.5,429.7 559.9,427 561.3,424.3 562.6,421.7 564,419 565.4,416.3 566.7,413.6 568,410.8 569.4,408.1 570.7,405.4 572,402.6 573.3,399.9 574.6,397.1 575.9,394.4 577.3,391.6 578.6,388.9 579.9,386.2 581.3,383.4 582.6,380.7 584,378 585.4,375.3 586.7,372.6 588.2,370 589.6,367.3 591.1,364.7 592.5,362.1 594.1,359.5 595.6,357 597.2,354.4 598.8,351.9 600.4,349.5 602.1,347 603.8,344.6 605.6,342.2 607.3,339.9 609.2,337.6 611.1,335.3 613,333.1 614.9,330.9 616.9,328.7 618.9,326.6 621,324.5 623.1,322.4 625.2,320.4 627.3,318.4 629.5,316.4 631.7,314.5 634,312.6 636.3,310.7 638.6,308.8 640.9,307 643.3,305.2 645.7,303.4 648.1,301.6 650.5,299.9 653,298.2 655.4,296.5 657.9,294.9 660.5,293.3 663,291.7 665.6,290.1 668.1,288.5 670.7,287 673.4,285.5 676,284 678.6,282.5 681.3,281.1 684,279.6 686.7,278.2 689.4,276.8 692.1,275.4 694.8,274.1 697.5,272.7 700.3,271.4 703,270.1 705.8,268.8 708.6,267.5 711.3,266.3 714.1,265 716.9,263.8 719.6,262.6 722.4,261.4 725.2,260.2 728,259 730.8,257.8 733.6,256.7 736.4,255.5 739.2,254.4 742,253.3 744.8,252.2 747.6,251.1 750.4,250 753.2,248.9 756,247.9 758.8,246.8 761.7,245.8 764.5,244.8 767.3,243.8 770.1,242.8 773,241.8 775.8,240.9 778.7,239.9 781.5,239 784.3,238.1 787.2,237.2 790,236.3 792.9,235.4 795.8,234.5 798.6,233.7 801.5,232.8 804.4,232 807.3,231.2 810.1,230.4 813,229.6 815.9,228.8 818.8,228.1 821.7,227.3 824.6,226.6 827.5,225.9 830.4,225.1 833.3,224.4 836.2,223.7 839.2,223.1 842.1,222.4 845,221.7 847.9,221.1 850.9,220.5 853.8,219.8 856.7,219.2 859.7,218.6 862.6,218 865.6,217.5 868.5,216.9 871.4,216.3 874.4,215.8 877.3,215.2 880.3,214.7 883.3,214.2 886.2,213.7 889.2,213.1 892.1,212.7 895.1,212.2 898.1,211.7 901,211.2 904,210.8 907,210.3 910,209.9 912.9,209.4 915.9,209 918.9,208.6 921.9,208.1 924.8,207.7 927.8,207.3 930.8,206.9 933.8,206.6 936.8,206.2 939.8,205.8 942.7,205.4 945.7,205.1 948.7,204.7 951.7,204.4 954.7,204 957.7,203.7 960.7,203.4 963.7,203 966.7,202.7 969.6,202.4 972.6,202.1 975.6,201.8 978.6,201.5 981.6,201.3 984.6,201 987.6,200.7 990.6,200.4 993.6,200.2 996.6,199.9 999.6,199.7 1002.6,199.5 1005.6,199.2 1008.6,199 1011.6,198.8 1014.6,198.6 1017.6,198.4 1020.6,198.2 1023.6,198 1026.6,197.8 1029.6,197.6 1032.6,197.5 1035.6,197.3 1038.6,197.1 1041.6,197 1044.6,196.8 1047.6,196.7 1050.6,196.6 1053.6,196.4 1056.6,196.3 1059.7,196.2 1062.7,196.1 1065.7,196 1068.7,195.9 1071.7,195.8 1074.7,195.8 1077.7,195.7 1080.7,195.6 1083.7,195.6 1086.7,195.5 1089.7,195.5 1092.7,195.4 1095.7,195.4 1098.7,195.4 1101.7,195.4 1104.7,195.4 1107.8,195.4 1110.8,195.4 1113.8,195.4 1116.8,195.4 1119.8,195.4 1122.8,195.4 1125.8,195.5 1128.8,195.5 1131.8,195.6 1134.8,195.6 1137.8,195.7 1140.8,195.8 1143.8,195.8 1146.8,195.9 1149.8,196 1152.8,196.1 1155.8,196.2 1158.8,196.3 1161.8,196.4 1164.8,196.6 1167.8,196.7 1170.8,196.8 1173.9,197 1176.9,197.1 1179.9,197.3 1182.9,197.4 1185.9,197.6 1188.8,197.8 1191.8,198 1194.8,198.2 1197.8,198.4 1200.8,198.6 1203.8,198.8 1206.8,199 1209.8,199.2 1212.8,199.5 1215.8,199.7 1218.8,200 1221.8,200.2 1224.8,200.5 1227.8,200.8 1230.8,201 1233.8,201.3 1236.8,201.6 1239.7,201.9 1242.7,202.2 1245.7,202.5 1248.7,202.8 1251.7,203.1 1254.7,203.5 1257.7,203.8 1260.6,204.2 1263.6,204.5 1266.6,204.9 1269.6,205.2 1272.6,205.6 1275.5,206 1278.5,206.4 1281.5,206.8 1284.5,207.2 1287.4,207.6 1290.4,208 1293.4,208.4 1296.4,208.8 1299.3,209.3 1302.3,209.7 1305.3,210.2 1308.2,210.6 1311.2,211.1 1314.2,211.5 1317.1,212 1320.1,212.5 1323,213 1326,213.5 1327.9,215.8 1329.8,218.1 1331.8,220.4 1333.7,222.7 1335.7,225 1337.6,227.2 1339.6,229.5 1341.6,231.7 1343.6,233.9 1345.7,236.1 1347.7,238.3 1349.8,240.5 1351.8,242.7 1353.9,244.8 1356,247 1358.1,249.1 1360.3,251.2 1362.4,253.3 1364.6,255.4 1366.7,257.5 1368.9,259.5 1371.1,261.6 1373.3,263.6 1375.6,265.6 1377.8,267.7 1380.1,269.6 1382.3,271.6 1384.6,273.6 1386.9,275.6 1389.2,277.5 1391.5,279.4 1393.8,281.4 1396.1,283.3 1398.5,285.2 1400.8,287 1403.2,288.9 1405.6,290.8 1408,292.6 1410.4,294.4 1412.8,296.3 1415.2,298.1 1417.6,299.9 1420,301.7 1422.5,303.4 1424.9,305.2 1427.3,307 1429.8,308.7 1432.3,310.4 1434.8,312.2 1437.2,313.9 1439.7,315.6 1442.2,317.3 1444.7,318.9 1447.2,320.6 1449.7,322.3 1452.3,323.9 1454.8,325.6 1457.3,327.2 1459.9,328.8 1462.4,330.4 1465,332 1467.5,333.6 1470.1,335.2 1472.6,336.8 1475.2,338.3 1477.8,339.9 1480.4,341.5 1482.9,343 1485.5,344.6 1488.1,346.1 1490.7,347.6 1493.3,349.1 1495.9,350.7 1498.5,352.2 1501.1,353.7 1503.7,355.2 1506.3,356.7 1509,358.2 1511.6,359.6 1514.2,361.1 1516.8,362.6 1519.5,364.1 1522.1,365.5 1524.7,367 1527.3,368.5 1530,369.9 1532.6,371.4 1535.3,372.8 1537.9,374.3 1540.5,375.7 1543.2,377.2 1545.8,378.6 1548.5,380.1 1551.1,381.5 1553.8,382.9 1556.4,384.4 1559.1,385.8 1561.7,387.2 1564.3,388.7 1567,390.1 1569.6,391.6 1572.3,393 1574.9,394.4 1577.6,395.9 1580.2,397.3 1582.9,398.8 1585.5,400.2 1588.1,401.7 1590.8,403.1 1593.4,404.6 1596,406.1 1598.7,407.5 1601.3,409 1603.9,410.5 1606.5,411.9 1609.2,413.4 1611.8,414.9 1614.4,416.4 1617,417.9 1619.6,419.4 1622.2,420.8 1624.9,422.3 1627.5,423.8 1630.1,425.3 1632.7,426.8 1635.3,428.3 1638,429.7 1640.6,431.2 1643.2,432.7 1645.8,434.2 1648.5,435.6 1651.1,437.1 1653.7,438.6 1656.4,440 1659,441.5 1661.6,443 1664.3,444.4 1666.9,445.9 1669.5,447.3 1672.2,448.8 1674.8,450.2 1677.4,451.7 1680.1,453.1 1682.7,454.6 1685.4,456 1688,457.5 1690.7,458.9 1693.3,460.3 1696,461.8 1698.6,463.2 1701.3,464.7 1703.9,466.1 1706.6,467.5 1709.2,468.9 1711.9,470.4 1714.5,471.8 1717.2,473.2 1719.8,474.7 1722.5,476.1 1725.1,477.5 1727.8,478.9 1730.5,480.4 1733.1,481.8 1735.8,483.2 1738.4,484.6 1741.1,486 1743.7,487.5 1746.4,488.9 1749.1,490.3 1751.7,491.7 1754.4,493.1 1757,494.6 1759.7,496 1762.4,497.4 1765,498.8 1767.7,500.2 1770.3,501.7 1773,503.1 1775.7,504.5 1778.3,505.9 1781,507.3 1783.6,508.8 1786.3,510.2 1789,511.6 1791.6,513 1794.3,514.4 1796.9,515.9 1799.6,517.3 1802.2,518.7 1804.9,520.1 1807.6,521.6 1810.2,523 1812.9,524.4 1815.5,525.8 1818.2,527.3 1820.8,528.7 1823.5,530.1 1826.1,531.6 1828.8,533 1831.4,534.4 1834.1,535.9 1836.7,537.3 1839.4,538.8 1842,540.2 1844.7,541.6 1847.3,543.1 1850,544.5 1852.6,546 1855.2,547.4 1857.9,548.9 1860.5,550.3 1863.2,551.8 1865.8,553.3 1868.4,554.7 1871.1,556.2 1873.7,557.7 1876.3,559.1 1879,560.6 1881.6,562.1 1884.2,563.6 1886.8,565 1889.4,566.5 1892.1,568 1894.7,569.5 1897.3,571 1899.9,572.5 1902.5,574 1905.1,575.5 1907.7,577 1910.3,578.5 1913,580 1915.6,581.6 1918.2,583.1 1920.7,584.6 1923.3,586.1 1925.9,587.7 1928.5,589.2 1931.1,590.8 1933.7,592.3 1936.3,593.9 1938.9,595.4 1941.5,597 1944,598.5 1946.6,600.1 1949.2,601.6 1951.8,603.2 1954.3,604.8 1956.9,606.4 1959.5,607.9 1962,609.5 1964.6,611.1 1967.2,612.7 1969.7,614.3 1972.3,615.9 1974.8,617.5 1977.4,619.1 1979.9,620.7 1982.5,622.3 1985,623.9 1987.6,625.5 1990.1,627.1 1992.7,628.7 1995.2,630.3 1997.8,631.9 2000.3,633.6 2002.8,635.2 2005.4,636.8 2007.9,638.5 2010.4,640.1 2013,641.8 2015.5,643.4 2018,645.1 2020.5,646.7 2023,648.4 2025.5,650.1 2028,651.8 2030.5,653.5 2032.9,655.2 2035.4,657 2037.9,658.7 2040.3,660.5 2042.7,662.2 2045.2,664 2047.6,665.8 2050,667.6 2052.4,669.5 2054.7,671.3 2057.1,673.2 2059.5,675 2061.8,676.9 2064.1,678.8 2066.5,680.8 2068.8,682.7 2071,684.7 2073.3,686.7" fill="none" stroke="#00781e" stroke-width="8.6" stroke-linejoin="round" stroke-linecap="round"/>
<rect x="246.3" y="19.8" width="2034.2" height="1436.7" fill="none" stroke="#000" stroke-width="6.8" stroke-linejoin="miter"/>
<rect x="1876.3" y="31.4" width="395.7" height="343.8" fill="#fff" stroke="#000" stroke-width="4.6" stroke-linejoin="round"/>
<line x1="1886" y1="78.6" x2="2037" y2="78.6" stroke="#000" stroke-width="9" stroke-linecap="round"/>
<line x1="1886" y1="161.2" x2="2037" y2="161.2" stroke="#ff0000" stroke-width="9" stroke-linecap="round"/>
<line x1="1886" y1="246.2" x2="2037" y2="246.2" stroke="#0000c8" stroke-width="9" stroke-linecap="round"/>
<line x1="1886" y1="328.7" x2="2037" y2="328.7" stroke="#00781e" stroke-width="9" stroke-linecap="round"/>
<rect x="669.9" y="882" width="1580.5" height="439.29999999999995" fill="#fff"/>
<rect x="1063.5" y="1008" width="1186.9" height="313.29999999999995" fill="#f4f4f4"/>
<path d="M1063.5 887V1319.3 M1460.5 887V1319.3 M1853.5 887V1319.3 M673.9 1008H2247.9 M673.9 1084H2247.9 M673.9 1163.3H2247.9 M673.9 1242.5H2247.9" stroke="#a8a8a8" stroke-width="3.6" fill="none"/>
<rect x="669.9" y="882" width="1580.5" height="439.29999999999995" fill="none" stroke="#000" stroke-width="4.4" stroke-linejoin="round"/>
<text x="186.5" y="1390.35" font-size="60.8" stroke-width="0">0</text>
<text x="125.7" y="1210.35" font-size="60.8" stroke-width="0">200</text>
<text x="125.7" y="1030.85" font-size="60.8" stroke-width="0">400</text>
<text x="125.7" y="851.05" font-size="60.8" stroke-width="0">600</text>
<text x="125.7" y="672.05" font-size="60.8" stroke-width="0">800</text>
<text x="95.3" y="493.35" font-size="60.8" stroke-width="0">1000</text>
<text x="95.3" y="313.55" font-size="60.8" stroke-width="0">1200</text>
<text x="95.3" y="134.05" font-size="60.8" stroke-width="0">1400</text>
<text x="365.32" y="1539.22" font-size="62.84" stroke-width="0">0</text>
<text x="635.89" y="1539.22" font-size="62.84" stroke-width="0">1</text>
<text x="908.91" y="1539.22" font-size="62.84" stroke-width="0">2</text>
<text x="1179.49" y="1539.22" font-size="62.84" stroke-width="0">3</text>
<text x="1451.53" y="1539.22" font-size="62.84" stroke-width="0">4</text>
<text x="1722.59" y="1539.22" font-size="62.84" stroke-width="0">5</text>
<text x="1994.15" y="1539.22" font-size="62.84" stroke-width="0">6</text>
<text x="2264.72" y="1539.22" font-size="62.84" stroke-width="0">7</text>
<text transform="translate(1154.84,1615.08) scale(0.9707,1)" font-size="78.4" stroke-width="0.6">Strain/%</text>
<text transform="translate(63.02,911.78) rotate(-90) scale(1.0140,1)" font-size="75.49" stroke-width="0.6">Stress/MPa</text>
<text transform="translate(2072.98,104.52) scale(0.7697,1)" font-size="75.49" stroke-width="0">OS</text>
<text transform="translate(2188.22,105.5) scale(0.8949,1)" font-size="79.78" stroke-width="0">1#</text>
<text transform="translate(2071.37,187.02) scale(0.7872,1)" font-size="75.49" stroke-width="0">US</text>
<text transform="translate(2186.62,187.7) scale(0.9188,1)" font-size="79.48" stroke-width="0">2#</text>
<text transform="translate(2073.18,272.31) scale(0.7642,1)" font-size="76.36" stroke-width="0">OS</text>
<text transform="translate(2186.88,272.28) scale(0.9358,1)" font-size="77.96" stroke-width="0">3#</text>
<text transform="translate(2071.77,354.6) scale(0.7778,1)" font-size="76.51" stroke-width="0">US</text>
<text transform="translate(2186.86,355.8) scale(0.9114,1)" font-size="80.07" stroke-width="0">4#</text>
<text x="756.57" y="967.97" font-size="59.27" stroke-width="0">Number</text>
<text transform="translate(1145.14,937.86) scale(0.9864,1)" font-size="47.44" stroke-width="0">0.2% Yield</text>
<text transform="translate(1121.61,986.81) scale(1.0206,1)" font-size="45.23" stroke-width="0">Strength/MPa</text>
<text transform="translate(1500.07,936.67) scale(0.9885,1)" font-size="47.03" stroke-width="0">Ultimate Tensile</text>
<text x="1523.73" y="986.94" font-size="45.99" stroke-width="0">Strength/MPa</text>
<text x="1927.58" y="966.76" font-size="45.88" stroke-width="0">Elongation/%</text>
<text transform="translate(830.99,1071.1) scale(0.9366,1)" font-size="61.62" stroke-width="0">1#</text>
<text transform="translate(828.72,1151) scale(0.9739,1)" font-size="61.62" stroke-width="0">2#</text>
<text transform="translate(828.79,1230.08) scale(1.0176,1)" font-size="58.91" stroke-width="0">3#</text>
<text transform="translate(828.66,1310.9) scale(0.9967,1)" font-size="60.28" stroke-width="0">4#</text>
<text transform="translate(1185.59,1063.58) scale(0.9812,1)" font-size="45.96" stroke-width="0">992.81</text>
<text x="1328.85" y="1043.05" font-size="28.65" stroke-width="0">+12.5</text>
<text transform="translate(1331.04,1073.77) scale(1.1207,1)" font-size="27.35" stroke-width="0">-20.6</text>
<text transform="translate(1171.4,1139.54) scale(0.9457,1)" font-size="48.73" stroke-width="0">1098.42</text>
<text transform="translate(1325.65,1119.17) scale(1.0533,1)" font-size="27.35" stroke-width="0">+20.5</text>
<text transform="translate(1328.04,1150.77) scale(1.1207,1)" font-size="27.35" stroke-width="0">-14.4</text>
<text transform="translate(1188.55,1218.68) scale(1.0071,1)" font-size="45.96" stroke-width="0">986.80</text>
<text transform="translate(1328.66,1197.15) scale(0.9966,1)" font-size="28.65" stroke-width="0">+17.1</text>
<text transform="translate(1331.05,1228.87) scale(1.1113,1)" font-size="27.35" stroke-width="0">-23.5</text>
<text transform="translate(1171.42,1294.78) scale(0.9945,1)" font-size="46.11" stroke-width="0">1097.52</text>
<text transform="translate(1327.83,1275.3) scale(1.1278,1)" font-size="25.89" stroke-width="0">+11.8</text>
<text transform="translate(1329.21,1306.87) scale(1.1528,1)" font-size="27.35" stroke-width="0">-14.2</text>
<text transform="translate(1577.44,1065.54) scale(0.9336,1)" font-size="48.87" stroke-width="0">1236.95</text>
<text transform="translate(1735.66,1041.17) scale(1.0444,1)" font-size="27.35" stroke-width="0">+21.4</text>
<text transform="translate(1738.04,1072.8) scale(1.1909,1)" font-size="25.89" stroke-width="0">-19.9</text>
<text transform="translate(1577.44,1141.56) scale(0.9622,1)" font-size="47.42" stroke-width="0">1354.59</text>
<text transform="translate(1735.66,1118.15) scale(0.9967,1)" font-size="28.65" stroke-width="0">+13.7</text>
<text transform="translate(1738.04,1149.75) scale(1.0678,1)" font-size="28.65" stroke-width="0">-22.6</text>
<text transform="translate(1578.41,1217.66) scale(0.9689,1)" font-size="47.42" stroke-width="0">1193.67</text>
<text transform="translate(1735.65,1201.17) scale(1.0517,1)" font-size="27.35" stroke-width="0">+21.3</text>
<text transform="translate(1738.04,1233.75) scale(1.0624,1)" font-size="28.8" stroke-width="0">-17.7</text>
<text transform="translate(1579.46,1295.66) scale(0.9555,1)" font-size="47.42" stroke-width="0">1306.78</text>
<text transform="translate(1735.65,1277.27) scale(1.0517,1)" font-size="27.35" stroke-width="0">+16.5</text>
<text transform="translate(1738.04,1308.85) scale(1.0624,1)" font-size="28.8" stroke-width="0">-25.6</text>
<text transform="translate(2006.08,1065.56) scale(0.9739,1)" font-size="47.56" stroke-width="0">1.80</text>
<text transform="translate(2100.16,1042.08) scale(1.0500,1)" font-size="27.2" stroke-width="0">+0.96</text>
<text transform="translate(2102.54,1073.77) scale(1.1189,1)" font-size="27.35" stroke-width="0">-0.46</text>
<text transform="translate(2006.98,1142.58) scale(1.0092,1)" font-size="45.96" stroke-width="0">4.50</text>
<text transform="translate(2098.25,1119.17) scale(1.0500,1)" font-size="27.35" stroke-width="0">+0.58</text>
<text transform="translate(2100.54,1151.75) scale(1.0706,1)" font-size="28.8" stroke-width="0">-1.59</text>
<text transform="translate(2007.24,1218.68) scale(1.0150,1)" font-size="45.96" stroke-width="0">2.22</text>
<text transform="translate(2099.26,1201.15) scale(0.9901,1)" font-size="28.8" stroke-width="0">+0.24</text>
<text transform="translate(2101.55,1232.75) scale(1.0588,1)" font-size="28.65" stroke-width="0">-0.53</text>
<text transform="translate(2005.51,1295.68) scale(1.0150,1)" font-size="45.96" stroke-width="0">3.48</text>
<text transform="translate(2098.24,1278.27) scale(1.0587,1)" font-size="27.35" stroke-width="0">+1.11</text>
<text transform="translate(2100.54,1309.85) scale(1.0624,1)" font-size="28.8" stroke-width="0">-0.96</text>
</svg></body></html>
